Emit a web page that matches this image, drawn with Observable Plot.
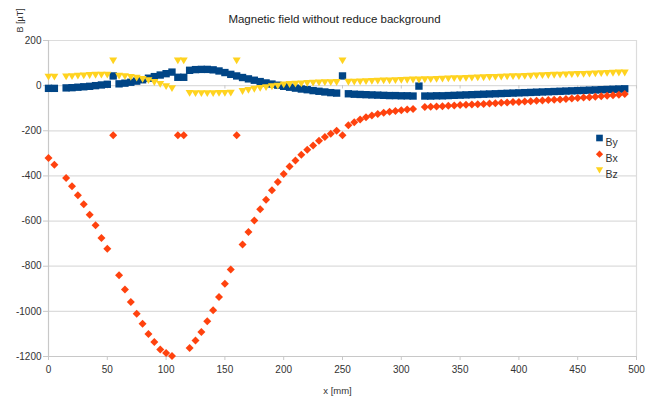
<!DOCTYPE html>
<html>
<head>
<meta charset="utf-8">
<script src="https://cdn.jsdelivr.net/npm/d3@7"></script>
<script src="https://cdn.jsdelivr.net/npm/@observablehq/plot@0.6"></script>
<style>
  html, body { margin: 0; padding: 0; background: #fff; }
  #chart { width: 655px; height: 405px; }
</style>
</head>
<body>
<div id="chart"></div>
<script>
// ---- data ----
const xMm = [0,5,15,20,25,30,35,40,45,50,55,60,65,70,75,80,85,90,95,100,105,110,115,120,125,130,135,140,145,150,155,160,165,170,175,180,185,190,195,200,205,210,215,220,225,230,235,240,245,250,255,260,265,270,275,280,285,290,295,300,305,310,315,320,325,330,335,340,345,350,355,360,365,370,375,380,385,390,395,400,405,410,415,420,425,430,435,440,445,450,455,460,465,470,475,480,485,490];

const By = [-12,-12,-10,-9,-7,-5,-3,0,3,6,43,8,11,15,20,26,33,40,47,53,60,37,37,68,71,72,72,70,65,58,50,43,36,30,24,18,12,7,2,-3,-7,-11,-15,-18,-22,-25,-28,-31,-33,43,-36,-38,-39,-40,-41,-42,-43,-44,-44,-45,-45,-46,-2,-46,-46,-45,-45,-44,-43,-42,-41,-40,-39,-38,-37,-36,-35,-34,-33,-32,-31,-30,-29,-28,-27,-26,-25,-24,-23,-22,-21,-20,-19,-18,-17,-16,-15,-14];

const Bx = [-321,-350,-409,-446,-486,-526,-572,-619,-675,-723,-220,-840,-903,-958,-1011,-1055,-1100,-1136,-1169,-1184,-1198,-220,-220,-1162,-1129,-1091,-1044,-995,-936,-878,-815,-220,-704,-648,-598,-548,-505,-464,-427,-392,-358,-332,-306,-284,-265,-244,-228,-213,-200,-220,-176,-162,-150,-140,-132,-126,-120,-116,-112,-109,-106,-103,null,-95,-94,-92,-91,-89,-88,-86,-85,-84,-82,-81,-79,-78,-76,-75,-73,-72,-70,-69,-67,-66,-64,-62,-61,-59,-57,-55,-53,-51,-49,-47,-45,-43,-40,-37];

const Bz = [38,38,39,40,42,43,45,46,47,47,110,42,40,37,33,28,22,14,6,-4,-13,110,110,-34,-35,-35,-35,-35,-34,-34,-33,110,-26,-21,-16,-12,-9,-5,-2,3,5,7,8,10,11,12,13,13,14,110,15,16,17,18,19,20,21,21,22,23,24,25,25,26,27,28,29,30,31,31,32,33,34,35,36,37,38,39,40,40,41,42,43,44,45,46,47,48,49,50,50,51,52,53,54,55,56,56];

const seriesNames = ["By", "Bx", "Bz"];
const seriesColors = ["#004586", "#ff420e", "#ffd320"];
const xTicks = [0,50,100,150,200,250,300,350,400,450,500];
const yTicks = [200,0,-200,-400,-600,-800,-1000,-1200];
const titleText = "Magnetic field without reduce background";
const yLabel = "B [µT]";
const xLabel = "x [mm]";

// ---- symbols ----
const symSquare = {draw(ctx, size) { const h = Math.sqrt(size / Math.PI) * 0.92; ctx.rect(-h, -h, 2 * h, 2 * h); }};
const symDiamond = {draw(ctx, size) { const h = Math.sqrt(size / Math.PI); ctx.moveTo(0, -h); ctx.lineTo(h, 0); ctx.lineTo(0, h); ctx.lineTo(-h, 0); ctx.closePath(); }};
const symTriDown = {draw(ctx, size) { const h = Math.sqrt(size / Math.PI); ctx.moveTo(-h, -h * 0.85); ctx.lineTo(h, -h * 0.85); ctx.lineTo(0, h * 0.85); ctx.closePath(); }};
const symbols = [symSquare, symDiamond, symTriDown];

const rows = xMm.map((x, i) => ({x, By: By[i], Bx: Bx[i], Bz: Bz[i]}));

const marks = [
  Plot.ruleY(yTicks.filter(d => d !== -1200), {stroke: "#dcdcdc", strokeWidth: 1.2}),
  Plot.ruleX([500], {stroke: "#dcdcdc", strokeWidth: 1.2}),
  Plot.ruleY([-1200], {stroke: "#c8c8c8", strokeWidth: 1.2}),
  Plot.ruleX([0], {stroke: "#c8c8c8", strokeWidth: 1.2}),
  Plot.ruleX(xTicks, {x: d => d, y1: 0, y2: -15, stroke: "#c8c8c8"}),
  Plot.axisY({ticks: yTicks, tickFormat: d => String(d), tickSize: 5, tickPadding: 2, stroke: "#c8c8c8", fill: "#333", fontSize: 10, label: null}),
  Plot.axisX({ticks: xTicks, tickFormat: d => String(d), tickSize: 4, tickPadding: 5, stroke: "#c8c8c8", fill: "#333", fontSize: 10, label: null})
];

seriesNames.forEach((name, k) => {
  marks.push(Plot.dot(rows, {x: "x", y: name, r: 4, symbol: () => symbols[k], fill: seriesColors[k], stroke: "none"}));
});

// legend
seriesNames.forEach((name, k) => {
  marks.push(Plot.dot([name], {frameAnchor: "top-right", dx: -37, dy: 97.5 + k * 16.2, r: 3.6, symbol: () => symbols[k], fill: seriesColors[k], stroke: "none"}));
  marks.push(Plot.text([name], {frameAnchor: "top-right", dx: -31, dy: 98 + k * 16.2, textAnchor: "start", fontSize: 10.5, fill: "#333"}));
});

// titles
marks.push(Plot.text([titleText], {frameAnchor: "top", dx: -8, dy: -26, fontSize: 11.5, fill: "#222"}));
marks.push(Plot.text([yLabel], {frameAnchor: "top-left", dx: -32, dy: -8, rotate: -90, textAnchor: "start", fontSize: 9, fill: "#333"}));
marks.push(Plot.text([xLabel], {frameAnchor: "bottom", dx: -5, dy: 37, fontSize: 9.5, fill: "#333"}));

const chart = Plot.plot({
  width: 655,
  height: 405,
  marginLeft: 48,
  marginRight: 19,
  marginTop: 40,
  marginBottom: 49,
  style: {fontFamily: "'Liberation Sans', Arial, sans-serif", fontSize: "10px", background: "#fff", color: "#333", overflow: "visible"},
  x: {domain: [0, 500]},
  y: {domain: [-1200, 200]},
  marks
});
document.getElementById("chart").appendChild(chart);
</script>
</body>
</html>
